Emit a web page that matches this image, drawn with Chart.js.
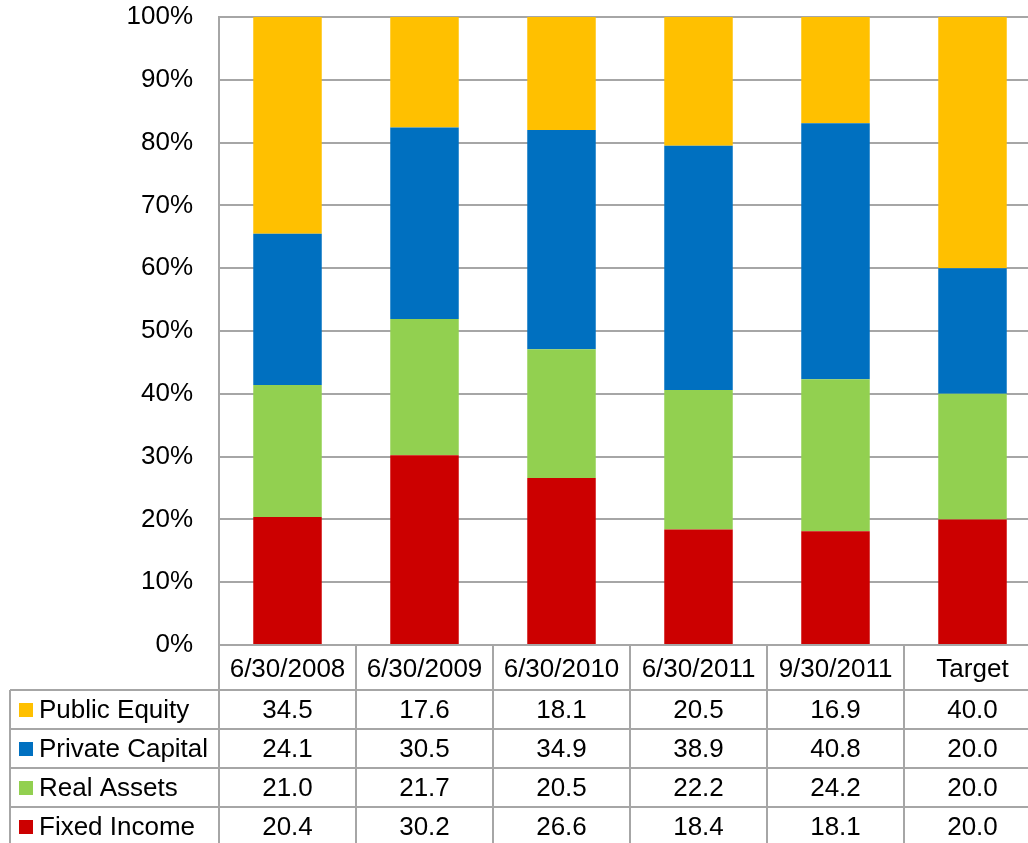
<!DOCTYPE html>
<html>
<head>
<meta charset="utf-8">
<script src="https://cdn.jsdelivr.net/npm/chart.js@4"></script>
<style>
  html, body { margin: 0; padding: 0; background: #fff; overflow: hidden; }
  #wrap { width: 1041px; height: 843px; }
</style>
</head>
<body>
<div id="wrap"><canvas id="allocChart" width="1041" height="843"></canvas></div>
<script>
const categories = ['6/30/2008', '6/30/2009', '6/30/2010', '6/30/2011', '9/30/2011', 'Target'];
const publicEquity = [34.5, 17.6, 18.1, 20.5, 16.9, 40.0];
const privateCapital = [24.1, 30.5, 34.9, 38.9, 40.8, 20.0];
const realAssets = [21.0, 21.7, 20.5, 22.2, 24.2, 20.0];
const fixedIncome = [20.4, 30.2, 26.6, 18.4, 18.1, 20.0];
const yTicks = [0, 10, 20, 30, 40, 50, 60, 70, 80, 90, 100];

const FONT = '"Liberation Sans", Arial, sans-serif';
const GRID = '#A6A6A6';

// table rows, top to bottom (same order as the reference)
const tableRows = [
    { label: 'Public Equity', values: publicEquity, color: '#FFC000' },
    { label: 'Private Capital', values: privateCapital, color: '#0070C0' },
    { label: 'Real Assets', values: realAssets, color: '#92D050' },
    { label: 'Fixed Income', values: fixedIncome, color: '#CC0000' }
];

const dataTablePlugin = {
    id: 'dataTable',
    afterDraw(chart) {
        const ctx = chart.ctx;
        const area = chart.chartArea;
        const x = chart.scales.x;
        const colW = (area.right - area.left) / categories.length;
        const headTop = area.bottom;
        const headBottom = 690;
        const rowH = 39;
        const tableLeft = 10;
        const bottom = headBottom + rowH * tableRows.length;

        ctx.save();
        ctx.strokeStyle = GRID;
        ctx.lineWidth = 2;

        // vertical lines
        ctx.beginPath();
        for (let i = 0; i <= categories.length; i++) {
            const px = Math.round(area.left + colW * i);
            ctx.moveTo(px, headTop);
            ctx.lineTo(px, bottom);
        }
        ctx.moveTo(tableLeft, headBottom);
        ctx.lineTo(tableLeft, bottom);
        // horizontal lines
        for (let r = 0; r <= tableRows.length; r++) {
            const py = headBottom + rowH * r;
            ctx.moveTo(tableLeft, py);
            ctx.lineTo(area.right, py);
        }
        ctx.stroke();

        ctx.fillStyle = '#000';
        ctx.font = '26px ' + FONT;
        ctx.textAlign = 'center';
        ctx.textBaseline = 'middle';
        categories.forEach((c, i) => {
            ctx.fillText(c, x.getPixelForValue(i), (headTop + headBottom) / 2 + 2);
        });

        tableRows.forEach((row, r) => {
            const cy = headBottom + rowH * r + rowH / 2 + 1;
            ctx.fillStyle = row.color;
            ctx.fillRect(19, Math.round(cy - 8), 14, 14);
            ctx.fillStyle = '#000';
            ctx.textAlign = 'left';
            ctx.fillText(row.label, 39, cy);
            ctx.textAlign = 'center';
            row.values.forEach((v, i) => {
                ctx.fillText(v.toFixed(1), x.getPixelForValue(i), cy);
            });
        });
        ctx.restore();
    }
};

new Chart(document.getElementById('allocChart'), {
    type: 'bar',
    data: {
        labels: categories,
        datasets: [
            { label: 'Fixed Income', data: fixedIncome, backgroundColor: '#CC0000' },
            { label: 'Real Assets', data: realAssets, backgroundColor: '#92D050' },
            { label: 'Private Capital', data: privateCapital, backgroundColor: '#0070C0' },
            { label: 'Public Equity', data: publicEquity, backgroundColor: '#FFC000' }
        ]
    },
    options: {
        responsive: false,
        animation: false,
        layout: { padding: { top: 17, bottom: 198, left: 0, right: 0 } },
        datasets: { bar: { categoryPercentage: 1, barPercentage: 0.5 } },
        plugins: { legend: { display: false }, tooltip: { enabled: false } },
        scales: {
            x: {
                stacked: true,
                display: false
            },
            y: {
                stacked: true,
                min: 0,
                max: 100,
                afterBuildTicks(scale) {
                    scale.ticks = yTicks.map(v => ({ value: v }));
                },
                afterFit(scale) {
                    scale.width = 219;
                    scale.paddingTop = 0;
                    scale.paddingBottom = 0;
                },
                ticks: {
                    callback: v => v + '%',
                    color: '#000',
                    font: { family: FONT, size: 26 },
                    padding: 26
                },
                grid: { color: GRID, lineWidth: 2, drawTicks: false },
                border: { display: true, color: GRID, width: 2 }
            }
        }
    },
    plugins: [dataTablePlugin]
});
</script>
</body>
</html>
